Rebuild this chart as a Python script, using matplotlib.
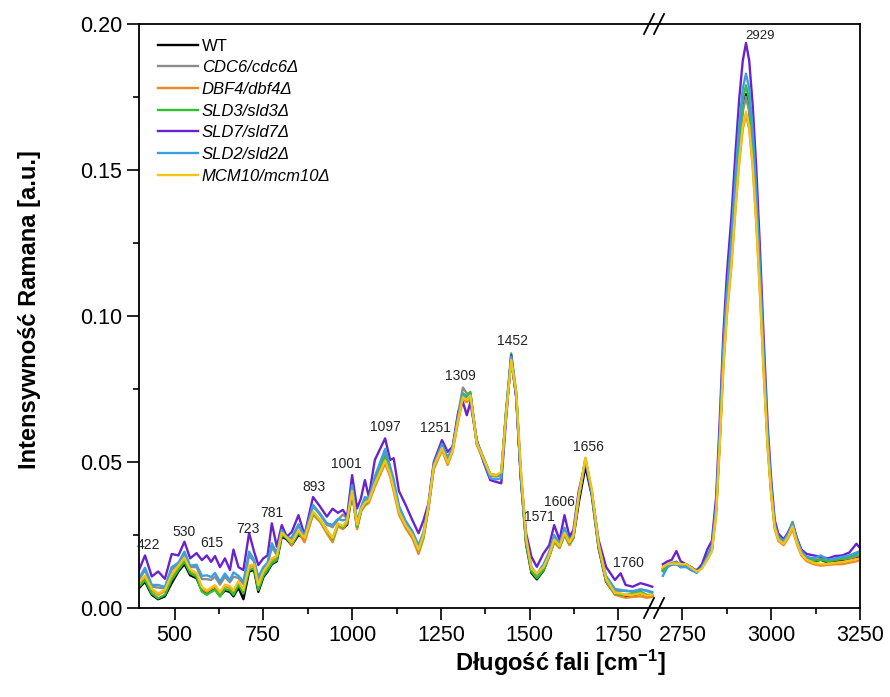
import matplotlib
matplotlib.use("Agg")
import matplotlib.pyplot as plt
from matplotlib.lines import Line2D
from matplotlib.ticker import MultipleLocator, FormatStrFormatter

plt.rcParams['font.family'] = ['Liberation Sans', 'DejaVu Sans']
plt.rcParams['mathtext.fontset'] = 'custom'
plt.rcParams['mathtext.rm'] = 'Liberation Sans:bold'
plt.rcParams['mathtext.it'] = 'Liberation Sans:bold'
plt.rcParams['mathtext.bf'] = 'Liberation Sans:bold'

# ---------------- data ----------------
wn_left = [400, 417, 436, 454, 473, 492, 511, 528, 544, 562, 577, 591, 603, 614, 628, 642, 656, 666, 680, 694,
           710, 724, 736, 750, 762, 774, 788, 802, 816, 830, 849, 866, 890, 910, 929, 945, 960, 974, 986, 1000,
           1014, 1025, 1036, 1047, 1064, 1093, 1107, 1117, 1132, 1150, 1170, 1187, 1201, 1215, 1230, 1253, 1269,
           1283, 1299, 1312, 1323, 1333, 1351, 1370, 1389, 1405, 1420, 1433, 1448, 1462, 1475, 1490, 1505, 1520,
           1539, 1555, 1569, 1584, 1598, 1612, 1623, 1638, 1657, 1675, 1694, 1715, 1740, 1756, 1770, 1790, 1812,
           1830, 1845]
wn_right = [2695, 2708, 2720, 2733, 2745, 2760, 2775, 2790, 2805, 2820, 2833, 2845, 2855, 2865, 2875, 2888, 2900,
            2910, 2920, 2929, 2938, 2948, 2958, 2968, 2978, 2990, 3000, 3010, 3020, 3035, 3048, 3060, 3072, 3085,
            3100, 3120, 3140, 3160, 3180, 3200, 3220, 3240, 3250]

wt_left = [.0068, .0090, .0045, .0030, .0040, .0085, .0125, .0150, .0112, .0102,
           .0060, .0050, .0058, .0065, .0042, .0060, .0055, .0040, .0070, .0030,
           .0125, .0130, .0055, .0105, .0125, .0150, .0160, .0245, .0235, .0215,
           .0250, .0238, .0322, .0298, .0262, .0232, .0285, .0272, .0285, .0395,
           .0275, .0332, .0355, .0365, .0430, .0520, .0470, .0420, .0335, .0290,
           .0248, .0200, .0245, .0345, .0485, .0550, .0500, .0545, .0652, .0728,
           .0718, .0732, .0562, .0510, .0455, .0452, .0458, .0660, .0852, .0725,
           .0445, .0218, .0120, .0098, .0128, .0178, .0228, .0208, .0252, .0218,
           .0240, .0360, .0485, .0385, .0205, .0090, .0048, .0042, .0040, .0042,
           .0050, .0040, .0042]
cdc6_left = [.0096, .0130, .0073, .0070, .0067, .0131, .0150, .0186, .0140, .0140,
             .0099, .0099, .0096, .0108, .0080, .0107, .0088, .0107, .0103, .0082,
             .0180, .0159, .0096, .0134, .0150, .0208, .0182, .0264, .0241, .0237,
             .0281, .0246, .0348, .0319, .0285, .0277, .0302, .0320, .0308, .0415,
             .0290, .0340, .0370, .0372, .0440, .0535, .0480, .0425, .0340, .0295,
             .0258, .0210, .0255, .0348, .0490, .0558, .0510, .0550, .0670, .0755,
             .0735, .0735, .0572, .0515, .0455, .0450, .0455, .0660, .0858, .0728,
             .0452, .0228, .0135, .0112, .0145, .0188, .0245, .0215, .0270, .0228,
             .0248, .0382, .0505, .0395, .0215, .0105, .0060, .0058, .0060, .0055,
             .0065, .0058, .0052]
dbf4_left = [.0085, .0105, .0060, .0045, .0058, .0110, .0140, .0168, .0128, .0115,
             .0066, .0055, .0065, .0072, .0048, .0075, .0068, .0055, .0088, .0058,
             .0140, .0145, .0070, .0118, .0138, .0162, .0172, .0255, .0240, .0215,
             .0260, .0225, .0320, .0295, .0255, .0225, .0280, .0270, .0290, .0410,
             .0270, .0330, .0350, .0360, .0415, .0495, .0450, .0400, .0320, .0275,
             .0238, .0185, .0238, .0340, .0475, .0540, .0490, .0535, .0640, .0715,
             .0705, .0720, .0560, .0505, .0455, .0452, .0462, .0650, .0855, .0735,
             .0470, .0235, .0130, .0110, .0135, .0175, .0225, .0205, .0250, .0215,
             .0240, .0378, .0510, .0400, .0212, .0092, .0045, .0040, .0035, .0038,
             .0040, .0035, .0038]
sld3_left = [.0073, .0096, .0050, .0033, .0045, .0096, .0130, .0159, .0119, .0107,
             .0056, .0045, .0055, .0062, .0039, .0065, .0060, .0045, .0079, .0050,
             .0130, .0136, .0062, .0110, .0130, .0153, .0164, .0250, .0239, .0222,
             .0256, .0244, .0326, .0300, .0267, .0235, .0288, .0275, .0300, .0404,
             .0278, .0335, .0355, .0370, .0425, .0518, .0475, .0412, .0330, .0285,
             .0250, .0199, .0244, .0347, .0487, .0552, .0500, .0547, .0655, .0735,
             .0725, .0740, .0564, .0513, .0460, .0455, .0460, .0670, .0872, .0740,
             .0450, .0220, .0125, .0102, .0130, .0180, .0233, .0210, .0256, .0222,
             .0244, .0380, .0513, .0393, .0210, .0096, .0050, .0045, .0045, .0048,
             .0056, .0045, .0045]
sld7_left = [.0130, .0180, .0108, .0125, .0100, .0185, .0180, .0227, .0170, .0188,
             .0164, .0180, .0158, .0178, .0140, .0170, .0130, .0200, .0140, .0130,
             .0257, .0193, .0147, .0170, .0180, .0290, .0210, .0284, .0244, .0260,
             .0318, .0250, .0380, .0347, .0313, .0340, .0326, .0336, .0313, .0455,
             .0341, .0376, .0438, .0381, .0507, .0581, .0507, .0513, .0400, .0355,
             .0300, .0256, .0300, .0358, .0500, .0575, .0535, .0552, .0672, .0705,
             .0660, .0705, .0575, .0500, .0438, .0432, .0427, .0640, .0866, .0720,
             .0450, .0256, .0175, .0141, .0187, .0215, .0284, .0233, .0318, .0244,
             .0267, .0400, .0500, .0393, .0233, .0141, .0096, .0119, .0079, .0073,
             .0085, .0079, .0073]
sld2_left = [.0102, .0138, .0079, .0079, .0072, .0140, .0155, .0193, .0145, .0148,
             .0110, .0112, .0106, .0120, .0090, .0118, .0095, .0122, .0110, .0090,
             .0193, .0165, .0105, .0140, .0155, .0222, .0187, .0267, .0241, .0241,
             .0287, .0247, .0353, .0323, .0290, .0285, .0305, .0300, .0305, .0420,
             .0295, .0345, .0380, .0375, .0450, .0545, .0485, .0440, .0350, .0300,
             .0262, .0215, .0260, .0350, .0492, .0562, .0515, .0548, .0660, .0730,
             .0718, .0730, .0570, .0508, .0445, .0440, .0445, .0660, .0860, .0730,
             .0455, .0230, .0140, .0115, .0150, .0192, .0250, .0218, .0275, .0230,
             .0250, .0385, .0508, .0395, .0215, .0110, .0065, .0062, .0058, .0058,
             .0062, .0060, .0055]
mcm10_left = [.0090, .0110, .0066, .0050, .0062, .0115, .0145, .0172, .0132, .0120,
              .0072, .0060, .0070, .0078, .0055, .0080, .0075, .0060, .0092, .0062,
              .0145, .0150, .0078, .0125, .0145, .0170, .0178, .0258, .0242, .0225,
              .0265, .0240, .0330, .0302, .0265, .0240, .0290, .0280, .0300, .0400,
              .0285, .0338, .0360, .0368, .0425, .0505, .0460, .0410, .0330, .0285,
              .0250, .0200, .0250, .0350, .0485, .0548, .0498, .0540, .0648, .0722,
              .0712, .0728, .0565, .0510, .0458, .0455, .0465, .0655, .0850, .0738,
              .0475, .0240, .0135, .0118, .0140, .0182, .0235, .0212, .0258, .0225,
              .0248, .0385, .0515, .0405, .0220, .0100, .0052, .0050, .0045, .0045,
              .0050, .0042, .0045]

wt_right = [.0130, .0150, .0150, .0158, .0140, .0145, .0130, .0125, .0140, .0170, .0200, .0340, .0580, .0850,
            .1040, .1220, .1430, .1590, .1710, .1760, .1710, .1570, .1370, .1130, .0860, .0570, .0400, .0280,
            .0240, .0225, .0250, .0280, .0230, .0190, .0170, .0160, .0165, .0155, .0160, .0160, .0165, .0170, .0175]
cdc6_right = [.0135, .0150, .0155, .0158, .0148, .0150, .0135, .0130, .0145, .0175, .0205, .0335, .0575, .0845,
              .1035, .1210, .1420, .1580, .1700, .1750, .1700, .1560, .1360, .1125, .0855, .0565, .0400, .0280,
              .0240, .0225, .0250, .0285, .0230, .0190, .0172, .0165, .0168, .0160, .0165, .0168, .0170, .0178, .0180]
dbf4_right = [.0135, .0145, .0148, .0150, .0145, .0150, .0135, .0125, .0140, .0165, .0195, .0320, .0555, .0815,
              .1000, .1170, .1375, .1525, .1640, .1690, .1640, .1510, .1315, .1085, .0825, .0550, .0385, .0270,
              .0230, .0215, .0240, .0270, .0220, .0180, .0160, .0150, .0145, .0148, .0150, .0150, .0155, .0160, .0165]
sld3_right = [.0125, .0145, .0150, .0155, .0145, .0150, .0135, .0130, .0145, .0180, .0210, .0345, .0590, .0865,
              .1060, .1240, .1455, .1620, .1740, .1790, .1740, .1595, .1395, .1150, .0875, .0580, .0405, .0280,
              .0240, .0225, .0255, .0295, .0240, .0195, .0170, .0162, .0165, .0160, .0165, .0170, .0175, .0185, .0190]
sld7_right = [.0150, .0160, .0165, .0195, .0160, .0150, .0140, .0125, .0150, .0200, .0230, .0380, .0640, .0930,
              .1140, .1340, .1570, .1745, .1875, .1935, .1875, .1720, .1505, .1240, .0945, .0625, .0440, .0300,
              .0255, .0235, .0260, .0290, .0240, .0200, .0185, .0180, .0175, .0170, .0178, .0180, .0190, .0220, .0205]
sld2_right = [.0110, .0140, .0148, .0150, .0140, .0140, .0130, .0120, .0140, .0175, .0210, .0350, .0600, .0885,
              .1080, .1270, .1490, .1655, .1780, .1830, .1780, .1635, .1425, .1175, .0895, .0595, .0415, .0285,
              .0245, .0230, .0255, .0290, .0235, .0195, .0175, .0170, .0180, .0165, .0170, .0175, .0180, .0190, .0195]
mcm10_right = [.0140, .0150, .0152, .0152, .0150, .0150, .0138, .0125, .0135, .0165, .0195, .0320, .0560, .0820,
               .1005, .1180, .1380, .1535, .1650, .1700, .1650, .1515, .1325, .1090, .0830, .0550, .0390, .0275,
               .0235, .0220, .0245, .0280, .0225, .0185, .0165, .0155, .0150, .0152, .0155, .0158, .0162, .0168, .0170]

labels = ['WT', r'CDC6/cdc6Δ', r'DBF4/dbf4Δ', r'SLD3/sld3Δ', r'SLD7/sld7Δ', r'SLD2/sld2Δ', r'MCM10/mcm10Δ']
colors = ['#000000', '#8c8c8c', '#ea8a22', '#30c030', '#6a22cc', '#3c9fe0', '#f2c418']
left_series = [wt_left, cdc6_left, dbf4_left, sld3_left, sld7_left, sld2_left, mcm10_left]
right_series = [wt_right, cdc6_right, dbf4_right, sld3_right, sld7_right, sld2_right, mcm10_right]

peak_left_labels = ['422', '530', '615', '723', '781', '893', '1001', '1097', '1251', '1309', '1452',
                    '1571', '1606', '1656', '1760']
peak_left_x = [425, 527, 606, 707, 775, 893, 983, 1093, 1234, 1304, 1453, 1527, 1583, 1665, 1777]
peak_left_y = [0.0216, 0.026, 0.0223, 0.027, 0.0325, 0.0414, 0.0493, 0.062, 0.0616, 0.0795, 0.0915,
               0.0312, 0.0363, 0.0551, 0.0154]
peak_right_labels = ['2929']
peak_right_x = [2970]
peak_right_y = [0.196]

# ---------------- figure ----------------
W, H = 890, 697
fig = plt.figure(figsize=(W / 100, H / 100), dpi=100)
x0, xb, x1 = 139, 654, 860
ybot, ytop = 608, 24
axL = fig.add_axes([x0 / W, (H - ybot) / H, (xb - x0) / W, (ybot - ytop) / H])
axR = fig.add_axes([xb / W, (H - ybot) / H, (x1 - xb) / W, (ybot - ytop) / H])

lw = 1.7
for lab, col, yl, yr in zip(labels, colors, left_series, right_series):
    axL.plot(wn_left, yl, color=col, lw=lw, label=lab, solid_joinstyle='round')
    axR.plot(wn_right, yr, color=col, lw=lw, solid_joinstyle='round')

axL.set_xlim(400, 1850)
axR.set_xlim(2670, 3250)
for ax in (axL, axR):
    ax.set_ylim(0, 0.20)
    for s in ax.spines.values():
        s.set_linewidth(1.3)
    ax.tick_params(axis='both', which='both', direction='out', labelsize=15.5, width=1.2)
    ax.tick_params(which='major', length=8.5)
    ax.tick_params(which='minor', length=4.5)

axL.spines['right'].set_visible(False)
axR.spines['left'].set_visible(False)
axR.tick_params(axis='y', which='both', left=False, labelleft=False)
axL.yaxis.set_major_locator(MultipleLocator(0.05))
axL.yaxis.set_minor_locator(MultipleLocator(0.025))
axL.yaxis.set_major_formatter(FormatStrFormatter('%.2f'))
axR.set_xticks([2750, 3000, 3250])
axR.set_xticks([2875, 3125], minor=True)
axL.set_xticks([500, 750, 1000, 1250, 1500, 1750])
axL.set_xticks([625, 875, 1125, 1375, 1625], minor=True)

for t, x, y in zip(peak_left_labels, peak_left_x, peak_left_y):
    axL.text(x, y, t, ha='center', va='center', fontsize=10, color='#222222')
for t, x, y in zip(peak_right_labels, peak_right_x, peak_right_y):
    axR.text(x, y, t, ha='center', va='center', fontsize=9.5, color='#222222')

leg = axL.legend(loc='upper left', bbox_to_anchor=(0.036, 0.975), frameon=False,
                 prop={'style': 'italic', 'size': 12}, handlelength=2.4, handletextpad=0.25,
                 labelspacing=0.4, borderaxespad=0, borderpad=0)
leg.get_texts()[0].set_fontstyle('normal')

fig.text(30 / W, 1 - 310 / H, 'Intensywność Ramana [a.u.]', rotation=90, ha='center', va='center',
         fontsize=17, fontweight='bold')
fig.text(560 / W, 1 - 663 / H, 'Długość fali [cm$^{-1}$]', ha='center', va='center',
         fontsize=17, fontweight='bold')

# break marks
for yb in (ybot, ytop):
    for dx in (-5, 5):
        xc = xb + dx
        fig.add_artist(Line2D([(xc - 5) / W, (xc + 5) / W], [(H - yb - 10) / H, (H - yb + 10) / H],
                              color='black', lw=1.3))

fig.savefig('out.png', dpi=100)
